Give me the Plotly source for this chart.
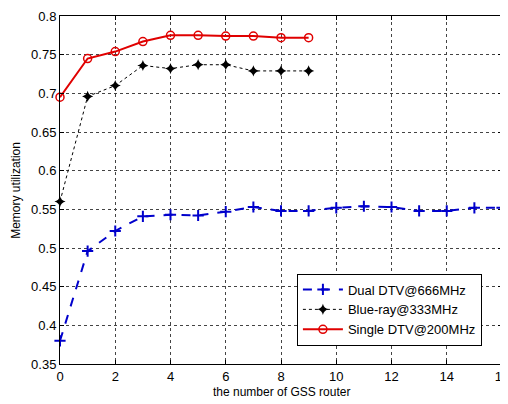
import plotly.graph_objects as go

x_dual = list(range(17))
dual_dtv = [0.380, 0.496, 0.522, 0.541, 0.543, 0.542, 0.547, 0.553, 0.548, 0.548,
            0.552, 0.554, 0.553, 0.548, 0.548, 0.552, 0.552]
x_short = list(range(10))
blue_ray = [0.560, 0.696, 0.710, 0.736, 0.732, 0.737, 0.737, 0.729, 0.729, 0.729]
single_dtv = [0.695, 0.745, 0.754, 0.767, 0.775, 0.775, 0.774, 0.774, 0.772, 0.772]

x_ticks = [0, 2, 4, 6, 8, 10, 12, 14, 16]
y_ticks = [0.35, 0.4, 0.45, 0.5, 0.55, 0.6, 0.65, 0.7, 0.75, 0.8]
y_tick_text = ["0.35", "0.4", "0.45", "0.5", "0.55", "0.6", "0.65", "0.7", "0.75", "0.8"]

FONT = "Arial, Liberation Sans"

fig = go.Figure()
fig.add_trace(go.Scatter(
    x=x_dual, y=dual_dtv, name="Dual DTV@666MHz", mode="lines+markers",
    line=dict(color="#0000cc", width=2, dash="dash"),
    marker=dict(symbol="cross-thin", size=8, line=dict(color="#0000cc", width=2)),
    cliponaxis=False))
fig.add_trace(go.Scatter(
    x=x_short, y=blue_ray, name="Blue-ray@333MHz", mode="lines+markers",
    line=dict(color="black", width=1, dash="dot"),
    marker=dict(symbol="star-diamond", size=8, color="black"),
    cliponaxis=False))
fig.add_trace(go.Scatter(
    x=x_short, y=single_dtv, name="Single DTV@200MHz", mode="lines+markers",
    line=dict(color="#e00000", width=2),
    marker=dict(symbol="circle-open", size=8, color="#e00000", line=dict(width=1.5)),
    cliponaxis=False))

axis_common = dict(
    showline=True, linecolor="black", linewidth=1, mirror="ticks",
    ticks="inside", ticklen=4, tickcolor="black",
    showgrid=True, gridcolor="#444444", griddash="dot", gridwidth=1,
    zeroline=False, automargin=False,
    tickfont=dict(family=FONT, size=13, color="black"),
)

fig.update_xaxes(range=[0, 16], tickvals=x_ticks, **axis_common)
fig.update_yaxes(range=[0.35, 0.8], tickvals=y_ticks, ticktext=y_tick_text, **axis_common)

# axis titles (the page has an 8px body margin)
fig.add_annotation(text="the number of GSS router", xref="paper", yref="paper",
                   x=0.5, y=-0.08, xanchor="center", yanchor="middle", showarrow=False,
                   font=dict(family=FONT, size=12, color="black"))
fig.add_annotation(text="Memory utilization", xref="paper", yref="paper",
                   x=-0.10, y=0.5, xanchor="center", yanchor="middle", showarrow=False,
                   textangle=-90, font=dict(family=FONT, size=12, color="black"))

fig.update_layout(
    width=508, height=404,
    margin=dict(l=52, r=14, t=8, b=48),
    plot_bgcolor="white", paper_bgcolor="white",
    legend=dict(x=0.536, y=0.26, xanchor="left", yanchor="top",
                bordercolor="black", borderwidth=1, bgcolor="white",
                font=dict(family=FONT, size=13, color="black"),
                tracegroupgap=0, itemwidth=40),
    showlegend=True,
)

fig.write_html("out.html")
